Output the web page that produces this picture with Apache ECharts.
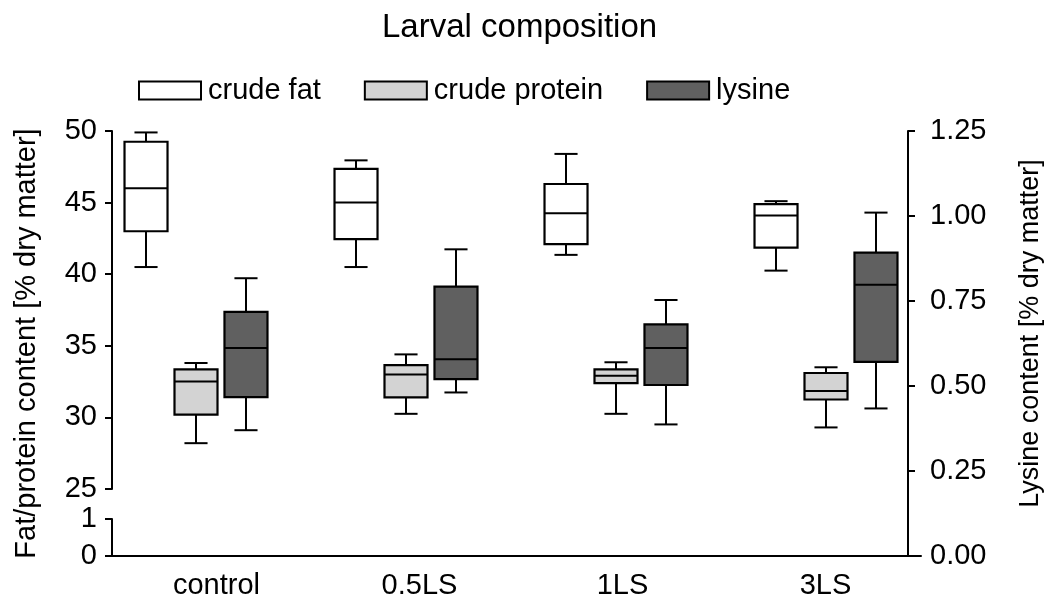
<!DOCTYPE html>
<html>
<head>
<meta charset="utf-8">
<script src="https://cdn.jsdelivr.net/npm/echarts@6/dist/echarts.min.js"></script>
<style>
  html, body { margin: 0; padding: 0; background: #fff; }
  #chart { width: 1049px; height: 600px; }
</style>
</head>
<body>
<div id="chart"></div>
<script>
const categories = ['control', '0.5LS', '1LS', '3LS'];

// each row: [min, Q1, median, Q3, max]
const crudeFat = [
  [40.5, 43.0, 46.0, 49.25, 49.9],
  [40.5, 42.45, 45.0, 47.35, 47.95],
  [41.35, 42.1, 44.25, 46.3, 48.4],
  [40.25, 41.85, 44.1, 44.9, 45.1],
];
const crudeProtein = [
  [28.2, 30.2, 32.5, 33.35, 33.8],
  [30.25, 31.4, 33.0, 33.65, 34.4],
  [30.25, 32.4, 32.9, 33.35, 33.85],
  [29.3, 31.25, 31.85, 33.1, 33.5],
];
const lysine = [
  [0.37, 0.467, 0.612, 0.718, 0.817],
  [0.481, 0.52, 0.579, 0.792, 0.902],
  [0.387, 0.503, 0.612, 0.681, 0.753],
  [0.434, 0.571, 0.798, 0.892, 1.01],
];

const font = '"Liberation Sans", Arial, sans-serif';
const black = '#000';

// box drawn through the axes; shift is a fraction of the category band
const makeBox = (shift, fill) => (params, api) => {
  const band = api.size([1, 0])[0];
  const idx = api.value(0);
  const x = api.coord([idx, api.value(3)])[0] + shift * band;
  const half = band * 0.1024;
  const cap = band * 0.055;
  const y = [1, 2, 3, 4, 5].map((d) => api.coord([idx, api.value(d)])[1]);
  const line = (x1, y1, x2, y2) => ({
    type: 'line',
    shape: { x1, y1, x2, y2 },
    style: { stroke: black, lineWidth: 2 },
  });
  return {
    type: 'group',
    children: [
      line(x, y[0], x, y[1]),
      line(x, y[3], x, y[4]),
      line(x - cap, y[0], x + cap, y[0]),
      line(x - cap, y[4], x + cap, y[4]),
      {
        type: 'rect',
        shape: { x: x - half, y: y[3], width: half * 2, height: y[1] - y[3] },
        style: { fill, stroke: black, lineWidth: 2.2 },
      },
      line(x - half, y[2], x + half, y[2]),
    ],
  };
};

const toData = (rows) => rows.map((r, i) => [i, ...r]);

const axisLine = { show: true, lineStyle: { color: black, width: 2 } };
const axisTick = { show: true, length: 7, lineStyle: { color: black, width: 2 } };
const labelStyle = { color: black, fontSize: 29, fontFamily: font };

const hiddenX = (gridIndex) => ({
  gridIndex, type: 'category', data: categories, show: false,
});

const option = {
  animation: false,
  backgroundColor: '#fff',
  title: {
    text: 'Larval composition',
    left: 382,
    top: 11,
    padding: 0,
    textStyle: { color: black, fontSize: 33, fontWeight: 'normal', fontFamily: font },
  },
  legend: {
    left: 138,
    top: 76,
    padding: 0,
    itemWidth: 62,
    itemHeight: 18,
    itemGap: 43,
    selectedMode: false,
    textStyle: { color: black, fontSize: 29, fontFamily: font, padding: [0, 0, 0, 2] },
    data: [
      { name: 'crude fat', icon: 'rect', itemStyle: { color: '#ffffff', borderColor: black, borderWidth: 2 } },
      { name: 'crude protein', icon: 'rect', itemStyle: { color: '#d3d3d3', borderColor: black, borderWidth: 2 } },
      { name: 'lysine', icon: 'rect', itemStyle: { color: '#606060', borderColor: black, borderWidth: 2 } },
    ],
  },
  grid: [
    { left: 91, width: 840, top: 131, height: 358, outerBoundsMode: 'none' },
    { left: 91, width: 840, top: 131, height: 425, outerBoundsMode: 'none' },
    { left: 112, width: 809, top: 519, height: 37, outerBoundsMode: 'none' },
    { left: 115, width: 812, top: 131, height: 425, outerBoundsMode: 'none' },
  ],
  xAxis: [
    hiddenX(0),
    hiddenX(1),
    {
      gridIndex: 2, type: 'value', min: 0, max: 1,
      axisLine, axisTick: { show: false }, axisLabel: { show: false }, splitLine: { show: false },
    },
    {
      gridIndex: 3, type: 'category', data: categories,
      axisLine: { show: false }, axisTick: { show: false },
      axisLabel: { ...labelStyle, margin: 15 },
    },
  ],
  yAxis: [
    {
      gridIndex: 0, type: 'value', position: 'left', offset: -21,
      min: 25, max: 50, interval: 5,
      axisLine, axisTick, splitLine: { show: false },
      axisLabel: { ...labelStyle, margin: 15 },
    },
    {
      gridIndex: 1, type: 'value', position: 'right', offset: -23,
      min: 0, max: 1.25, interval: 0.25,
      axisLine, axisTick, splitLine: { show: false },
      axisLabel: { ...labelStyle, margin: 22, formatter: (v) => v.toFixed(2) },
      name: 'Lysine content [% dry matter]',
      nameLocation: 'middle',
      nameGap: 109,
      nameRotate: 90,
      nameTextStyle: { color: black, fontSize: 27, fontFamily: font, padding: [0, 0, 0, 20] },
    },
    {
      gridIndex: 2, type: 'value', position: 'left',
      min: 0, max: 1, interval: 1,
      axisLine, axisTick, splitLine: { show: false },
      axisLabel: { ...labelStyle, margin: 15 },
    },
    {
      gridIndex: 3, type: 'value', position: 'left',
      min: 0, max: 1,
      axisLine: { show: false }, axisTick: { show: false },
      axisLabel: { show: false }, splitLine: { show: false },
      name: 'Fat/protein content [% dry matter]',
      nameLocation: 'middle',
      nameGap: 74,
      nameRotate: 90,
      nameTextStyle: { color: black, fontSize: 29, fontFamily: font },
    },
  ],
  series: [
    {
      name: 'crude fat', type: 'custom', xAxisIndex: 0, yAxisIndex: 0,
      itemStyle: { color: '#ffffff' },
      encode: { x: 0, y: [1, 2, 3, 4, 5] },
      renderItem: makeBox(-0.238, '#ffffff'),
      data: toData(crudeFat),
    },
    {
      name: 'crude protein', type: 'custom', xAxisIndex: 0, yAxisIndex: 0,
      itemStyle: { color: '#d3d3d3' },
      encode: { x: 0, y: [1, 2, 3, 4, 5] },
      renderItem: makeBox(0, '#d3d3d3'),
      data: toData(crudeProtein),
    },
    {
      name: 'lysine', type: 'custom', xAxisIndex: 1, yAxisIndex: 1,
      itemStyle: { color: '#606060' },
      encode: { x: 0, y: [1, 2, 3, 4, 5] },
      renderItem: makeBox(0.238, '#606060'),
      data: toData(lysine),
    },
  ],
};

const myChart = echarts.init(document.getElementById('chart'));
myChart.setOption(option);
</script>
</body>
</html>
